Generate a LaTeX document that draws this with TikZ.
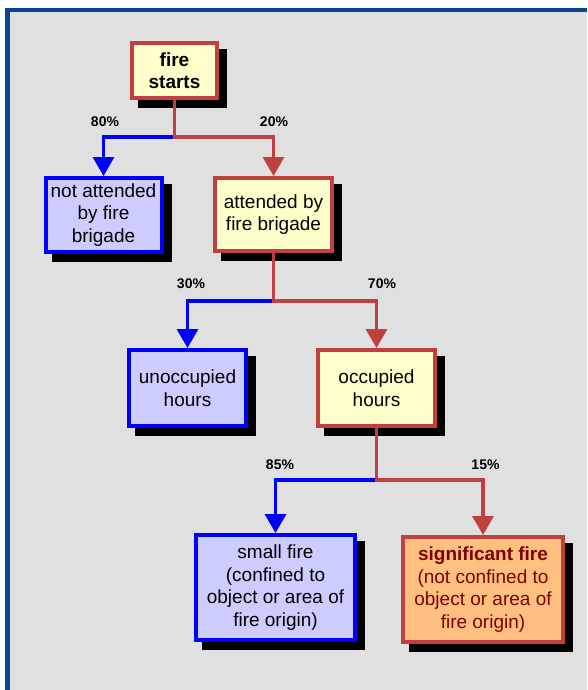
\documentclass[tikz,border=0pt]{standalone}
\usepackage{fontspec}
\setmainfont{Liberation Sans}
\usetikzlibrary{arrows.meta}
\definecolor{cFrame}{RGB}{10,70,140}
\definecolor{cBg}{RGB}{224,224,224}
\definecolor{cRed}{RGB}{192,64,64}
\definecolor{cYellow}{RGB}{255,255,204}
\definecolor{cLav}{RGB}{204,204,255}
\definecolor{cOrange}{RGB}{255,192,128}
\definecolor{cDarkRed}{RGB}{128,0,0}
\pgfdeclarelayer{bglayer}
\pgfdeclarelayer{shadowlayer}
\pgfsetlayers{bglayer,shadowlayer,main}
\tikzset{
  box/.style={rectangle, draw, line width=4pt, inner sep=0pt, align=center,
    font=\fontsize{19}{22.5}\selectfont},
  redbox/.style={box, draw=cRed, fill=cYellow},
  bluebox/.style={box, draw=blue, fill=cLav},
  sigbox/.style={box, draw=cRed, fill=cOrange, text=cDarkRed},
  redconn/.style={draw=cRed, line width=3.5pt, -{Triangle[width=21pt,length=19pt]}},
  blueconn/.style={draw=blue, line width=3.5pt, -{Triangle[width=21pt,length=19pt]}},
  redstem/.style={draw=cRed, line width=3.5pt},
  pct/.style={font=\bfseries\fontsize{14}{16}\selectfont, inner sep=0pt, text=black}
}
\begin{document}
\begin{tikzpicture}[x=1pt,y=-1pt]
\useasboundingbox (0,0) rectangle (587,690);
\begin{pgfonlayer}{bglayer}
  \fill[white] (0,0) rectangle (587,690);
  \fill[cBg] (7.5,10) rectangle (587,690);
  \draw[cFrame, line width=4.5pt] (7.5,690) -- (7.5,10) -- (587,10);
\end{pgfonlayer}

% boxes
\node[redbox, minimum width=85pt, minimum height=55pt, font=\bfseries\fontsize{19}{22.5}\selectfont] (start) at (174.5,70.5) {fire\\starts};
\node[bluebox, minimum width=116pt, minimum height=74pt] (notatt) at (103.5,215) {not attended\\by fire\\brigade};
\node[redbox, minimum width=117pt, minimum height=73pt] (att) at (273.5,214.5) {attended by\\fire brigade};
\node[bluebox, minimum width=117pt, minimum height=76pt] (unocc) at (187.5,388) {unoccupied\\hours};
\node[redbox, minimum width=117pt, minimum height=76pt] (occ) at (376.5,388) {occupied\\hours};
\node[bluebox, minimum width=159pt, minimum height=105pt] (small) at (275.5,587.5) {small fire\\(confined to\\object or area of\\fire origin)};
\node[sigbox, minimum width=160pt, minimum height=105pt] (sig) at (483,589.5) {\textbf{significant fire}\\(not confined to\\object or area of\\fire origin)};

% shadows
\begin{pgfonlayer}{shadowlayer}
  \foreach \n in {start,notatt,att,unocc,occ,small,sig}
    \fill[black] ([shift={(8,8)}]\n.north west) rectangle ([shift={(8,8)}]\n.south east);
\end{pgfonlayer}

% junctions
\coordinate (j1) at (174.5,137);
\coordinate (j2) at (273.5,301);
\coordinate (j3) at (376.5,480);

% connectors
\draw[blueconn] (j1) -| (notatt.north);
\draw[redconn] (start.south) -- (j1) -| (att.north);
\draw[blueconn] (j2) -| (unocc.north);
\draw[redconn] (att.south) -- (j2) -| (occ.north);
\draw[blueconn] (j3) -| (small.north);
\draw[redconn] (occ.south) -- (j3) -| (sig.north);

% labels
\node[pct] (p80) at (105,122) {80\%};
\node[pct] (p20) at (274,122) {20\%};
\node[pct] (p30) at (191,284) {30\%};
\node[pct] (p70) at (382,284) {70\%};
\node[pct] (p85) at (280,465) {85\%};
\node[pct] (p15) at (485.5,465) {15\%};
\end{tikzpicture}
\end{document}
